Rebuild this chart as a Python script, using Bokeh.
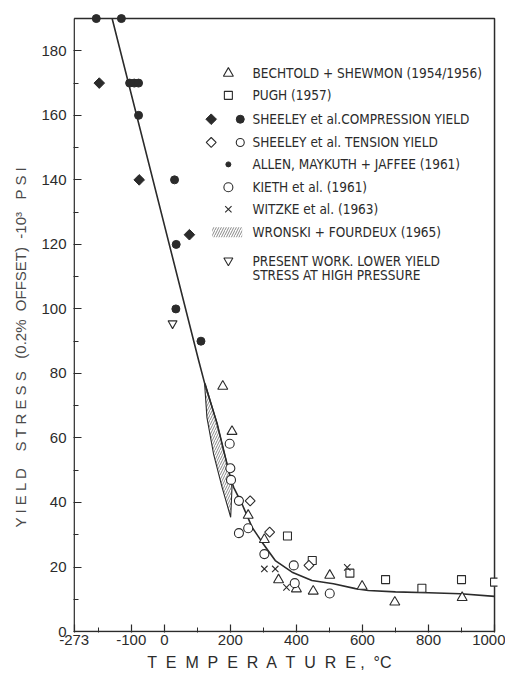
import numpy as np
from bokeh.plotting import figure
from bokeh.models import Range1d, FixedTicker
from bokeh.core.properties import value
from bokeh.embed import file_html
from bokeh.resources import INLINE

# ---------------- data (temperature degC, yield stress 10^3 psi) ----------------
bechtold_T = [177, 205, 254, 303, 346, 400, 451, 501, 599, 698, 902]
bechtold_Y = [76, 62, 36, 28.5, 16, 13.2, 12.5, 17.4, 14, 9.1, 10.5]

pugh_T = [373, 448, 562, 670, 780, 900, 1000]
pugh_Y = [29.6, 22, 18.1, 16.1, 13.4, 16.1, 15.3]

sheeley_comp_diamond_T = [-197, -76, 76]
sheeley_comp_diamond_Y = [170, 140, 123]
sheeley_comp_circle_T = [-206, -130, -105, -91, -78, -78, 31, 36, 35, 111]
sheeley_comp_circle_Y = [190, 190, 170, 170, 170, 160, 140, 120, 100, 90]

sheeley_tens_diamond_T = [260, 319, 438]
sheeley_tens_diamond_Y = [40.5, 30.8, 20.5]

kieth_T = [198, 200, 202, 226, 254, 226, 303, 392, 395, 501]
kieth_Y = [58.2, 50.6, 47, 40.5, 32, 30.5, 24, 20.5, 15, 11.8]

witzke_T = [303, 336, 370, 554]
witzke_Y = [19.4, 19.4, 13.7, 19.9]

present_T = [25]
present_Y = [95.5]

# Wronski + Fourdeux band (lens shaped region)
wronski_T = [122, 129, 149, 175, 201, 205, 200, 185, 160, 124]
wronski_Y = [76.8, 66.4, 55.1, 44.7, 35.4, 44.7, 47.8, 54.0, 64.4, 76.8]

# fitted curve
curve_T = [-158, 104, 122, 160, 185, 200, 210, 235, 266, 296, 336, 387, 447,
           512, 579, 618, 700, 800, 897, 1000]
curve_Y = [190, 84, 77, 64.4, 54, 47.8, 44.7, 39.6, 32.3, 27.7, 22, 18.4, 15.8,
           14.8, 13.3, 12.7, 12.3, 12.0, 11.7, 10.9]

x_ticks = [-273, -100, 0, 200, 400, 600, 800, 1000]
x_minor = [-200, 100, 300, 500, 700, 900]
y_ticks = [0, 20, 40, 60, 80, 100, 120, 140, 160, 180]
y_minor = [10, 30, 50, 70, 90, 110, 130, 150, 170]

legend_labels = [
    "BECHTOLD + SHEWMON (1954/1956)",
    "PUGH (1957)",
    "SHEELEY et al.COMPRESSION YIELD",
    "SHEELEY et al. TENSION YIELD",
    "ALLEN, MAYKUTH + JAFFEE (1961)",
    "KIETH et al. (1961)",
    "WITZKE et al. (1963)",
    "WRONSKI + FOURDEUX (1965)",
    "PRESENT WORK. LOWER YIELD",
    "STRESS AT HIGH PRESSURE",
]

# ---------------- styling ----------------
INK = "#2b2b2b"
TEXT_FONT = "DejaVu Sans Condensed, Liberation Sans"
TICK_FONT = "Liberation Sans"
NB = "\u00a0"

X_MIN, X_MAX, Y_MIN, Y_MAX = -273, 1000, 0, 190

p = figure(width=505, height=675, output_backend="svg", toolbar_location=None,
           x_range=Range1d(-275, 1009), y_range=Range1d(-0.3, 192.5),
           min_border_left=73, min_border_right=8, min_border_top=10,
           min_border_bottom=43)
p.outline_line_color = None
p.background_fill_color = "white"
p.border_fill_color = "white"
p.xgrid.visible = False
p.ygrid.visible = False

# plot frame
p.line([X_MIN, X_MIN, X_MAX, X_MAX, X_MIN], [Y_MAX, Y_MIN, Y_MIN, Y_MAX, Y_MAX],
       line_color=INK, line_width=1.5)

for ax in (p.xaxis[0], p.yaxis[0]):
    ax.axis_line_color = None
    ax.major_tick_line_color = INK
    ax.minor_tick_line_color = INK
    ax.major_tick_line_width = 1.2
    ax.minor_tick_line_width = 1.0
    ax.major_tick_in = 8
    ax.major_tick_out = 0
    ax.minor_tick_in = 5
    ax.minor_tick_out = 0
    ax.major_label_text_font = TICK_FONT
    ax.major_label_text_font_size = "15px"
    ax.major_label_text_color = INK
    ax.axis_label_text_font = TICK_FONT
    ax.axis_label_text_font_style = "normal"

p.xaxis.ticker = FixedTicker(ticks=x_ticks, minor_ticks=x_minor)
p.yaxis.ticker = FixedTicker(ticks=y_ticks, minor_ticks=y_minor)
p.xaxis.major_label_standoff = 2
p.yaxis.major_label_standoff = 7
p.xaxis.major_label_overrides = {t: str(t) for t in x_ticks}

# axis titles (trailing no-break spaces shift the centred text like the original)
y_title = ("Y I E L D" + NB * 4 + "S T R E S S" + NB * 3 + "(0.2%" + NB * 2 +
           "OFFSET)" + NB * 2 + "-10\u00b3" + NB * 3 + "P S I" + NB * 12)
p.yaxis.axis_label = y_title
p.yaxis.axis_label_text_font_size = "15px"
p.yaxis.axis_label_text_color = "#4a4a4a"
p.yaxis.axis_label_standoff = 9

x_title = ("T  E  M  P  E  R  A  T  U  R  E ,   \u00b0C".replace("  ", NB + " ") + NB * 6)
p.xaxis.axis_label = x_title
p.xaxis.axis_label_text_font_size = "16px"
p.xaxis.axis_label_text_color = INK
p.xaxis.axis_label_standoff = 6

# band + curve
p.patch(wronski_T, wronski_Y, fill_color=None, line_color=INK, line_width=1.1,
        hatch_pattern="/", hatch_color="#555555", hatch_scale=5, hatch_weight=0.7)
p.line(curve_T, curve_Y, line_color=INK, line_width=1.6)

# data points
open_kw = dict(fill_color="white", line_color=INK, line_width=1.1)
p.scatter(bechtold_T, bechtold_Y, marker="triangle", size=10, **open_kw)
p.scatter(pugh_T, pugh_Y, marker="square", size=8, **open_kw)
p.scatter(sheeley_tens_diamond_T, sheeley_tens_diamond_Y, marker="square", angle=np.pi / 4,
          size=7, **open_kw)
p.scatter(kieth_T, kieth_Y, marker="circle", size=9, **open_kw)
p.scatter(witzke_T, witzke_Y, marker="x", size=9, line_color=INK, line_width=1.1)
p.scatter(present_T, present_Y, marker="inverted_triangle", size=9, **open_kw)
p.scatter(sheeley_comp_diamond_T, sheeley_comp_diamond_Y, marker="square", angle=np.pi / 4,
          size=7.5, fill_color=INK, line_color=INK)
p.scatter(sheeley_comp_circle_T, sheeley_comp_circle_Y, marker="circle", size=8,
          fill_color=INK, line_color=INK)

# ---------------- legend (hand drawn key) ----------------
row_y = [173.0, 166.2, 158.8, 151.6, 144.8, 137.7, 130.9, 123.7, 115.0, 110.4]
mark_x = 194
pair_x = (142, 230)
text_x = 267

p.text(x=[text_x] * len(legend_labels), y=row_y, text=legend_labels,
       text_font=value(TEXT_FONT), text_font_size="13.5px", text_color=INK,
       text_baseline="middle", text_align="left")

p.scatter([mark_x], [row_y[0]], marker="triangle", size=10, **open_kw)
p.scatter([mark_x], [row_y[1]], marker="square", size=8, **open_kw)
p.scatter([pair_x[0]], [row_y[2]], marker="square", angle=np.pi / 4, size=7.5,
          fill_color=INK, line_color=INK)
p.scatter([pair_x[1]], [row_y[2]], marker="circle", size=8, fill_color=INK, line_color=INK)
p.scatter([pair_x[0]], [row_y[3]], marker="square", angle=np.pi / 4, size=7, **open_kw)
p.scatter([pair_x[1]], [row_y[3]], marker="circle", size=8, **open_kw)
p.scatter([mark_x], [row_y[4]], marker="circle", size=5, fill_color=INK, line_color=INK)
p.scatter([mark_x], [row_y[5]], marker="circle", size=9, **open_kw)
p.scatter([mark_x], [row_y[6]], marker="x", size=9, line_color=INK, line_width=1.1)
p.quad(left=[145], right=[236], bottom=[row_y[7] - 1.5], top=[row_y[7] + 1.6],
       fill_color=None, line_color=None, hatch_pattern="/", hatch_color="#555555",
       hatch_scale=5, hatch_weight=0.7)
p.scatter([mark_x], [row_y[8]], marker="inverted_triangle", size=9, **open_kw)

open("out.html", "w").write(file_html(p, INLINE))
